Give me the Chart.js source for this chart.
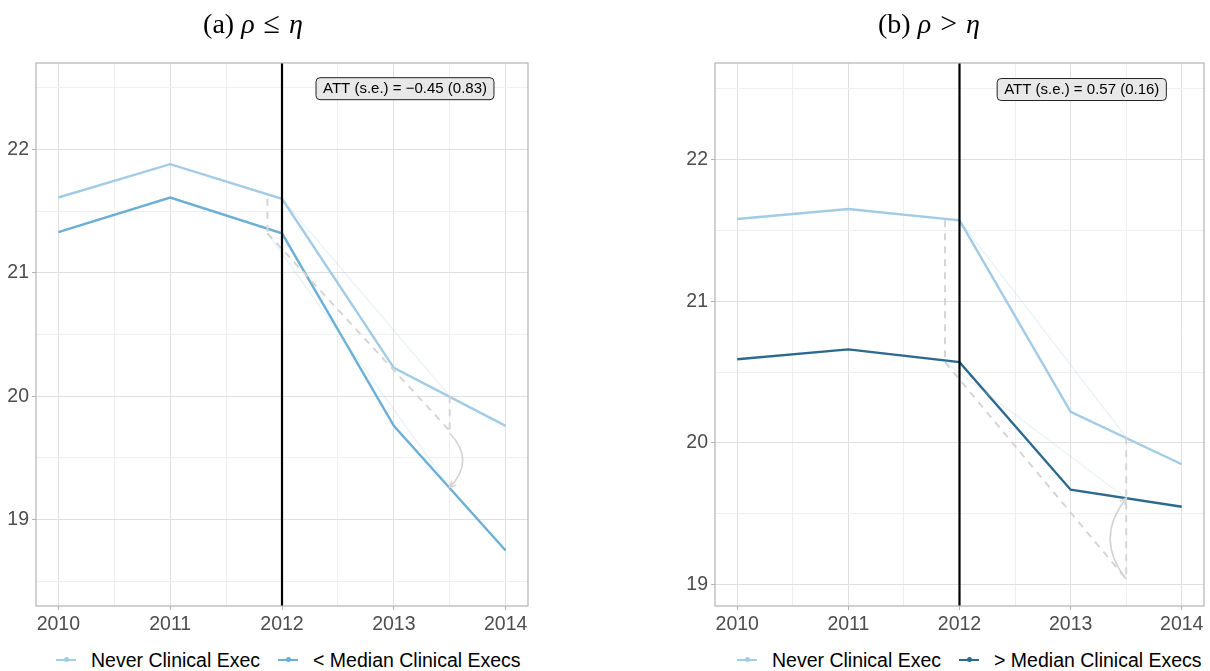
<!DOCTYPE html>
<html>
<head>
<meta charset="utf-8">
<script src="https://cdn.jsdelivr.net/npm/chart.js@4.4.0/dist/chart.umd.min.js"></script>
<style>
html,body{margin:0;padding:0;background:#fff;overflow:hidden;width:1210px;height:671px;}
.panel{position:absolute;top:0;}
.title{position:absolute;top:6px;font-family:"Liberation Serif","Times New Roman",serif;font-size:28px;color:#000;white-space:nowrap;transform:translateX(-50%);line-height:34px;}
.title i{font-style:italic;}
.title .rel{display:inline-block;font-size:30px;margin:0 9px;}
.legend{position:absolute;top:648px;font-family:"Liberation Sans",Arial,sans-serif;font-size:19.5px;color:#000;white-space:nowrap;display:flex;align-items:center;line-height:24px;}
.item{display:flex;align-items:center;margin-right:18px;}
.sw{display:inline-block;width:20px;height:2.5px;position:relative;margin-right:15px;}
.sw span{position:absolute;left:7.5px;top:-1.5px;width:5px;height:5px;border-radius:50%;}
</style>
</head>
<body>
<div class="panel" id="pa" style="left:0px;width:540px;height:640px;"><canvas id="ca" width="540" height="640"></canvas></div>
<div class="panel" id="pb" style="left:670px;width:540px;height:640px;"><canvas id="cb" width="540" height="640"></canvas></div>
<div class="title" style="left:253px;">(a) <i>ρ</i><span class="rel">≤</span><i>η</i></div>
<div class="title" style="left:929px;">(b) <i>ρ</i><span class="rel">&gt;</span><i>η</i></div>
<div class="legend" id="la" style="left:56px;"></div>
<div class="legend" id="lb" style="left:737px;"></div>
<script>
// ---------- data ----------
const years = [2010, 2011, 2012, 2013, 2014];
const xTickLabels = ['2010', '2011', '2012', '2013', '2014'];
const xGrid = [2010, 2010.5, 2011, 2011.5, 2012, 2012.5, 2013, 2013.5, 2014];

const seriesNever = 'Never Clinical Exec';
const seriesBelow = '< Median Clinical Execs';
const seriesAbove = '> Median Clinical Execs';

// panel (a)
const neverA = [21.61, 21.88, 21.60, 20.23, 19.76];
const belowA = [21.33, 21.61, 21.32, 19.76, 18.75];
const yTicksA = [19, 20, 21, 22];
const yGridA = [18.5, 19, 19.5, 20, 20.5, 21, 21.5, 22, 22.5];
const gapStartXA = [2011.87, 2011.87];
const gapStartYA = [21.60, 21.32];
const cfXA = [2011.87, 2013.5];
const cfYA = [21.32, 19.72];
const gapEndXA = [2013.5, 2013.5];
const gapEndYA = [20.00, 19.72];
const ghostNeverXA = [2012, 2013.5];
const ghostNeverYA = [21.60, 20.00];
const ghostTreatXA = [2011.87, 2013.5];
const ghostTreatYA = [21.32, 19.26];
const arrowXA = [2013.5, 2013.5];
const arrowYA = [19.70, 19.26];
const attLabelA = 'ATT (s.e.) = −0.45 (0.83)';

// panel (b)
const neverB = [21.58, 21.65, 21.57, 20.22, 19.85];
const aboveB = [20.59, 20.66, 20.57, 19.67, 19.55];
const yTicksB = [19, 20, 21, 22];
const yGridB = [19, 19.5, 20, 20.5, 21, 21.5, 22, 22.5];
const gapStartXB = [2011.87, 2011.87];
const gapStartYB = [21.57, 20.57];
const cfXB = [2011.87, 2013.5];
const cfYB = [20.57, 19.04];
const gapEndXB = [2013.5, 2013.5];
const gapEndYB = [20.04, 19.04];
const ghostNeverXB = [2012, 2013.5];
const ghostNeverYB = [21.57, 20.04];
const ghostTreatXB = [2011.87, 2013.5];
const ghostTreatYB = [20.57, 19.61];
const arrowXB = [2013.5, 2013.5];
const arrowYB = [19.04, 19.61];
const attLabelB = 'ATT (s.e.) = 0.57 (0.16)';

const treatYear = 2012;
const attPos = [2013.1, 22.5];

// ---------- styles ----------
const colNever = '#a2cbe5';
const colBelow = '#6baed6';
const colAbove = '#2b6a8e';
const FONT = '"Liberation Sans", Arial, Helvetica, sans-serif';

function pts(xs, ys) { return xs.map((x, i) => ({x: x, y: ys[i]})); }
function rgba(hex, a) {
  const n = parseInt(hex.slice(1), 16);
  return 'rgba(' + (n >> 16 & 255) + ',' + (n >> 8 & 255) + ',' + (n & 255) + ',' + a + ')';
}

const panelPlugin = {
  id: 'panelDecor',
  afterDatasetsDraw(chart) {
    const p = chart.options.plugins.panelDecor;
    const ctx = chart.ctx, xs = chart.scales.x, ys = chart.scales.y, a = chart.chartArea;
    ctx.save();
    // curved arrow
    const x0 = xs.getPixelForValue(p.arrowX[0]), y0 = ys.getPixelForValue(p.arrowY[0]);
    const x1 = xs.getPixelForValue(p.arrowX[1]), y1 = ys.getPixelForValue(p.arrowY[1]);
    const cx = (x0 + x1) / 2 + p.bulge, cy = (y0 + y1) / 2;
    ctx.strokeStyle = '#d3d3d3';
    ctx.lineWidth = 1.6;
    ctx.beginPath();
    ctx.moveTo(x0, y0);
    ctx.quadraticCurveTo(cx, cy, x1, y1);
    ctx.stroke();
    const ang = Math.atan2(y1 - cy, x1 - cx);
    const L = 7;
    ctx.beginPath();
    ctx.moveTo(x1 - L * Math.cos(ang - 0.45), y1 - L * Math.sin(ang - 0.45));
    ctx.lineTo(x1, y1);
    ctx.lineTo(x1 - L * Math.cos(ang + 0.45), y1 - L * Math.sin(ang + 0.45));
    ctx.stroke();
    // treatment line
    const tx = xs.getPixelForValue(treatYear);
    ctx.strokeStyle = '#000';
    ctx.lineWidth = 2.2;
    ctx.beginPath();
    ctx.moveTo(tx, a.top);
    ctx.lineTo(tx, a.bottom);
    ctx.stroke();
    // ATT label
    ctx.font = '15px ' + FONT;
    const tw = ctx.measureText(p.att).width;
    const bx = xs.getPixelForValue(attPos[0]), by = ys.getPixelForValue(attPos[1]);
    const w = tw + 14, h = 22, r = 4;
    const lx = bx - w / 2, ly = by - h / 2 + 1;
    ctx.beginPath();
    ctx.moveTo(lx + r, ly);
    ctx.arcTo(lx + w, ly, lx + w, ly + h, r);
    ctx.arcTo(lx + w, ly + h, lx, ly + h, r);
    ctx.arcTo(lx, ly + h, lx, ly, r);
    ctx.arcTo(lx, ly, lx + w, ly, r);
    ctx.closePath();
    ctx.fillStyle = '#e8e8e8';
    ctx.fill();
    ctx.strokeStyle = '#222';
    ctx.lineWidth = 1;
    ctx.stroke();
    ctx.fillStyle = '#000';
    ctx.textAlign = 'center';
    ctx.textBaseline = 'middle';
    ctx.fillText(p.att, bx, by + 1.5);
    ctx.restore();
  },
  afterDraw(chart) {
    const a = chart.chartArea, ctx = chart.ctx;
    ctx.save();
    ctx.strokeStyle = '#b3b3b3';
    ctx.lineWidth = 1.2;
    ctx.strokeRect(a.left, a.top, a.right - a.left, a.bottom - a.top);
    ctx.restore();
  }
};

function line(data, color, width, dash) {
  return {data: data, borderColor: color, borderWidth: width, borderDash: dash || [],
          showLine: true, pointRadius: 0, pointHoverRadius: 0, fill: false, tension: 0};
}

function buildPanel(canvasId, p) {
  const W = 540, H = 640;
  const dash = [7, 6];
  const dashCol = '#d5d5d5';
  const datasets = [
    line(pts(p.ghostNeverX, p.ghostNeverY), rgba(colNever, 0.22), 1.5),
    line(pts(p.ghostTreatX, p.ghostTreatY), rgba(colNever, 0.22), 1.5),
    line(pts(p.gapStartX, p.gapStartY), dashCol, 2, dash),
    line(pts(p.cfX, p.cfY), dashCol, 2, dash),
    line(pts(p.gapEndX, p.gapEndY), dashCol, 2, dash),
    line(pts(years, p.never), colNever, 2.4),
    line(pts(years, p.treat), p.colTreat, 2.4)
  ];
  return new Chart(document.getElementById(canvasId), {
    type: 'scatter',
    data: {datasets: datasets},
    plugins: [panelPlugin],
    options: {
      responsive: false,
      animation: false,
      devicePixelRatio: 1,
      events: [],
      layout: {padding: {left: 0, top: p.top, right: W - p.right, bottom: 0}},
      plugins: {
        legend: {display: false},
        tooltip: {enabled: false},
        panelDecor: {att: p.att, arrowX: p.arrowX, arrowY: p.arrowY, bulge: p.bulge}
      },
      scales: {
        x: {
          type: 'linear', min: 2009.8, max: 2014.2,
          afterBuildTicks: s => { s.ticks = xGrid.map(v => ({value: v})); },
          afterFit: s => { s.height = H - p.bottom; },
          border: {display: false},
          grid: {
            color: c => (c.tick && Number.isInteger(c.tick.value)) ? '#e0e0e0' : '#efefef',
            lineWidth: 1,
            tickLength: 4,
            tickColor: c => (c.tick && Number.isInteger(c.tick.value)) ? '#b3b3b3' : 'rgba(0,0,0,0)'
          },
          ticks: {
            autoSkip: false, maxRotation: 0, padding: 3, color: '#4d4d4d',
            font: {family: FONT, size: 19.5},
            callback: v => { const i = years.indexOf(v); return i >= 0 ? xTickLabels[i] : ''; }
          }
        },
        y: {
          type: 'linear', min: p.ymin, max: p.ymax,
          afterBuildTicks: s => { s.ticks = p.yGrid.map(v => ({value: v})); },
          afterFit: s => { s.width = p.left; },
          border: {display: false},
          grid: {
            color: c => (c.tick && Number.isInteger(c.tick.value)) ? '#e0e0e0' : '#efefef',
            lineWidth: 1,
            tickLength: 4,
            tickColor: c => (c.tick && Number.isInteger(c.tick.value)) ? '#b3b3b3' : 'rgba(0,0,0,0)'
          },
          ticks: {
            autoSkip: false, padding: 3, color: '#4d4d4d',
            font: {family: FONT, size: 19.5},
            callback: v => p.yTicks.includes(v) ? String(v) : ''
          }
        }
      }
    }
  });
}

buildPanel('ca', {
  left: 36, right: 528, top: 63, bottom: 606, ymin: 18.3, ymax: 22.7,
  yGrid: yGridA, yTicks: yTicksA, never: neverA, treat: belowA, colTreat: colBelow,
  gapStartX: gapStartXA, gapStartY: gapStartYA, cfX: cfXA, cfY: cfYA,
  gapEndX: gapEndXA, gapEndY: gapEndYA, ghostNeverX: ghostNeverXA, ghostNeverY: ghostNeverYA,
  ghostTreatX: ghostTreatXA, ghostTreatY: ghostTreatYA, arrowX: arrowXA, arrowY: arrowYA,
  bulge: 26, att: attLabelA
});
buildPanel('cb', {
  left: 45, right: 534, top: 63, bottom: 606, ymin: 18.85, ymax: 22.68,
  yGrid: yGridB, yTicks: yTicksB, never: neverB, treat: aboveB, colTreat: colAbove,
  gapStartX: gapStartXB, gapStartY: gapStartYB, cfX: cfXB, cfY: cfYB,
  gapEndX: gapEndXB, gapEndY: gapEndYB, ghostNeverX: ghostNeverXB, ghostNeverY: ghostNeverYB,
  ghostTreatX: ghostTreatXB, ghostTreatY: ghostTreatYB, arrowX: arrowXB, arrowY: arrowYB,
  bulge: -32, att: attLabelB
});

function buildLegend(id, items) {
  const el = document.getElementById(id);
  items.forEach(it => {
    const d = document.createElement('div'); d.className = 'item';
    const sw = document.createElement('span'); sw.className = 'sw'; sw.style.background = it.color;
    const dot = document.createElement('span'); dot.style.background = it.color; sw.appendChild(dot);
    const t = document.createElement('span'); t.textContent = it.label;
    d.appendChild(sw); d.appendChild(t); el.appendChild(d);
  });
}
buildLegend('la', [{label: seriesNever, color: colNever}, {label: seriesBelow, color: colBelow}]);
buildLegend('lb', [{label: seriesNever, color: colNever}, {label: seriesAbove, color: colAbove}]);
</script>
</body>
</html>
